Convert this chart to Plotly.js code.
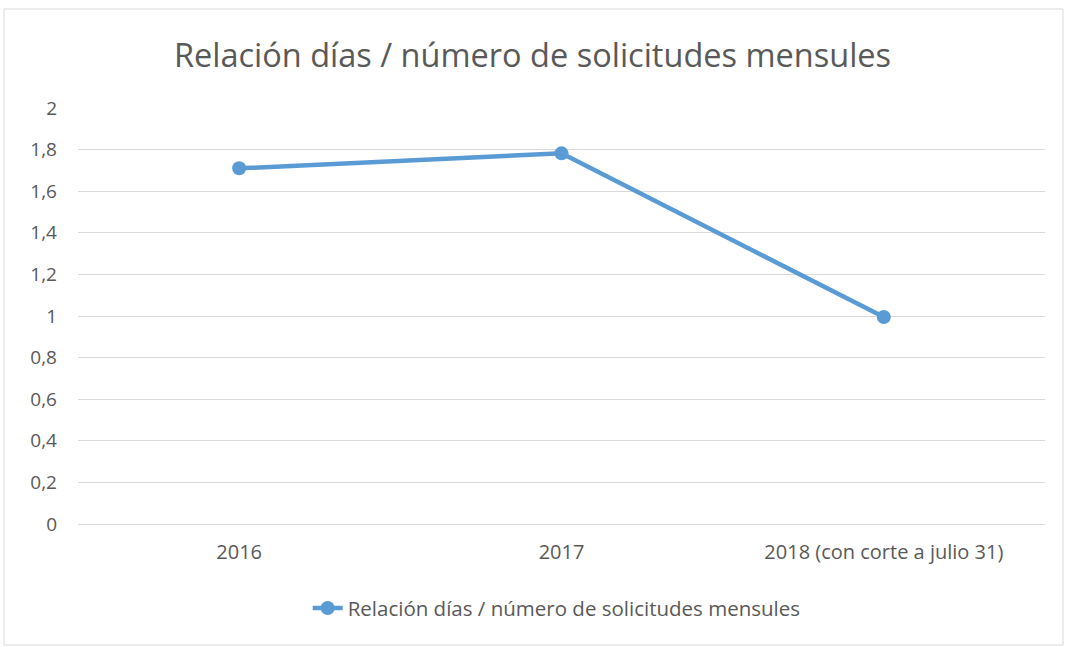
<!DOCTYPE html>
<html>
<head>
<meta charset="utf-8">
<script src="https://cdn.plot.ly/plotly-3.0.1.min.js"></script>
<style>html,body{margin:0;padding:0;background:#fff;}#chart{width:1065px;height:647px;}</style>
</head>
<body>
<div id="chart"></div>
<script>
const categories = ["2016", "2017", "2018 (con corte a julio 31)"];
const values = [1.71, 1.782, 0.995];
const seriesName = "Relación días / número de solicitudes mensules";
const yTicks = [0, 0.2, 0.4, 0.6, 0.8, 1, 1.2, 1.4, 1.6, 1.8, 2];
const yTickLabels = ["0", "0,2", "0,4", "0,6", "0,8", "1", "1,2", "1,4", "1,6", "1,8", "2"];

const FONT = "Open Sans, Noto Sans, sans-serif";
const trace = {
  x: categories, y: values, name: seriesName,
  type: "scatter", mode: "lines+markers",
  line: {color: "#5B9BD5", width: 4.5},
  marker: {color: "#5B9BD5", size: 14}
};
const layout = {
  width: 1065, height: 647,
  margin: {l: 78, r: 20, t: 108, b: 123},
  paper_bgcolor: "#fff", plot_bgcolor: "#fff",
  font: {family: FONT, color: "#595959", size: 19},
  title: {text: seriesName, font: {family: FONT, size: 32.5, color: "#595959"}, x: 0.5, xanchor: "center", y: 0.914, yanchor: "middle"},
  xaxis: {type: "category", range: [-0.5, 2.5], showgrid: false, zeroline: false, showline: false, ticks: "", ticklabelstandoff: 14, tickfont: {size: 20, color: "#595959"}, fixedrange: true},
  yaxis: {range: [0, 2], tickvals: yTicks, ticktext: yTickLabels, showgrid: true, gridcolor: "#D9D9D9", gridwidth: 1, zeroline: true, zerolinecolor: "#D9D9D9", zerolinewidth: 1, showline: false, ticks: "", ticklen: 0, ticklabelstandoff: 20, tickfont: {size: 19, color: "#595959"}, automargin: false},
  showlegend: true,
  legend: {orientation: "h", x: 0.495, xanchor: "center", y: 0.06, yanchor: "middle", yref: "container", font: {size: 20.5, color: "#595959"}},
  shapes: [{type: "rect", xref: "paper", yref: "paper", x0: -74/967, x1: 1 + 18/967, y0: -121/416, y1: 1 + 99/416, line: {color: "#D9D9D9", width: 1}}]
};
Plotly.newPlot("chart", [trace], layout, {displayModeBar: false, staticPlot: true});
</script>
</body>
</html>
